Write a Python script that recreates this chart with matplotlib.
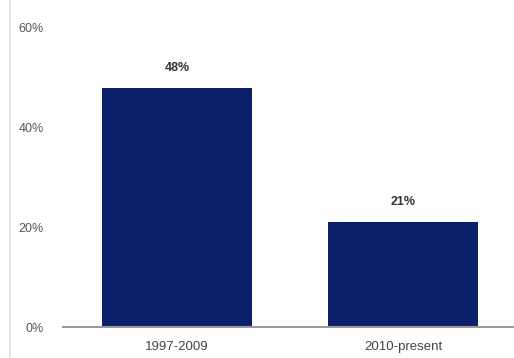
import matplotlib.pyplot as plt
from matplotlib.lines import Line2D

plt.rcParams["font.family"] = ["Liberation Sans", "DejaVu Sans"]

periodos = ["1997-2009", "2010-present"]
porcentajes = [0.48, 0.21]
etiquetas = ["48%", "21%"]
yticks = [0, 0.2, 0.4, 0.6]
ytick_labels = ["0%", "20%", "40%", "60%"]

fig = plt.figure(figsize=(5.14, 3.58), dpi=100)
ax = fig.add_axes([63/514, 31/358, 451/514, 299/358])

x = range(len(periodos))
ax.bar(x, porcentajes, width=0.662, color="#0c1f6a")

for i, v in enumerate(porcentajes):
    ax.text(i, v + 0.028, etiquetas[i], ha="center", va="bottom",
            fontsize=9, fontweight="bold", color="#333333")

ax.set_xlim(-0.503, 1.488)
ax.set_ylim(0, 0.6)
ax.set_xticks(list(x))
ax.set_xticklabels(periodos, fontsize=9.5, color="#444444")
ax.set_yticks(yticks)
ax.set_yticklabels(ytick_labels, fontsize=9, color="#555555")
ax.tick_params(axis="y", length=0, pad=14)
ax.tick_params(axis="x", length=0, pad=10)

for s in ["top", "right", "left"]:
    ax.spines[s].set_visible(False)
ax.spines["bottom"].set_color("#999999")
ax.spines["bottom"].set_linewidth(1.5)

fig.add_artist(Line2D([10/514, 10/514], [0, 1], color="#e6e6e6", linewidth=1.5))

plt.savefig("out.png")
